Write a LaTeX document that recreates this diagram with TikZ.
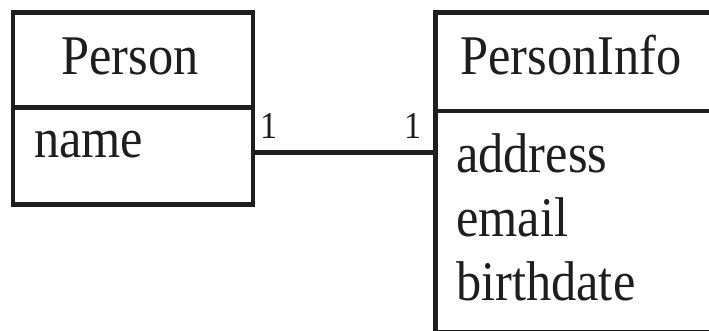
\documentclass[tikz,border=0pt]{standalone}
\usepackage{fontspec}
\setmainfont{Liberation Serif}[FakeStretch=0.9]
\definecolor{ink}{HTML}{1E1E1E}
\tikzset{
  box/.style={draw=ink, line width=4.5pt, inner sep=0pt, anchor=north west},
  bigtext/.style={inner sep=0pt, text=ink, font=\fontsize{56}{63.5}\selectfont},
  multtext/.style={inner sep=0pt, text=ink, font=\fontsize{38}{40}\selectfont, anchor=base},
  assoc/.style={draw=ink, line width=4.5pt}
}
\begin{document}
\begin{tikzpicture}[x=1pt,y=-1pt]
\useasboundingbox (0,0) rectangle (709,331);
% Person class
\node[box, minimum width=240pt, minimum height=95pt] (personHead) at (10.5,10.5) {};
\node[box, minimum width=240pt, minimum height=96.5pt] (personBody) at (10.5,105.5) {};
\node[bigtext, anchor=base] (personName) at (130,75) {Person};
\node[bigtext, anchor=base west] (attrName) at (34,158) {name};
% PersonInfo class
\node[box, minimum width=280pt, minimum height=98.5pt] (infoHead) at (433,10.5) {};
\node[box, minimum width=280pt, minimum height=221pt] (infoBody) at (433,109) {};
\node[bigtext, anchor=base] (infoName) at (571,75) {PersonInfo};
\node[bigtext, anchor=base west] (attrAddress) at (456,173) {address};
\node[bigtext, anchor=base west] (attrEmail) at (456,236.5) {email};
\node[bigtext, anchor=base west] (attrBirth) at (456,300) {birthdate};
% association
\coordinate (assocEnd) at (infoBody.west |- 0,152.5);
\coordinate (assocStart) at (personBody.east |- 0,152.5);
\draw[assoc] (assocStart) -- (assocEnd);
\node[multtext] (multLeft) at (269,139) {1};
\node[multtext] (multRight) at (413.5,139) {1};
\end{tikzpicture}
\end{document}
